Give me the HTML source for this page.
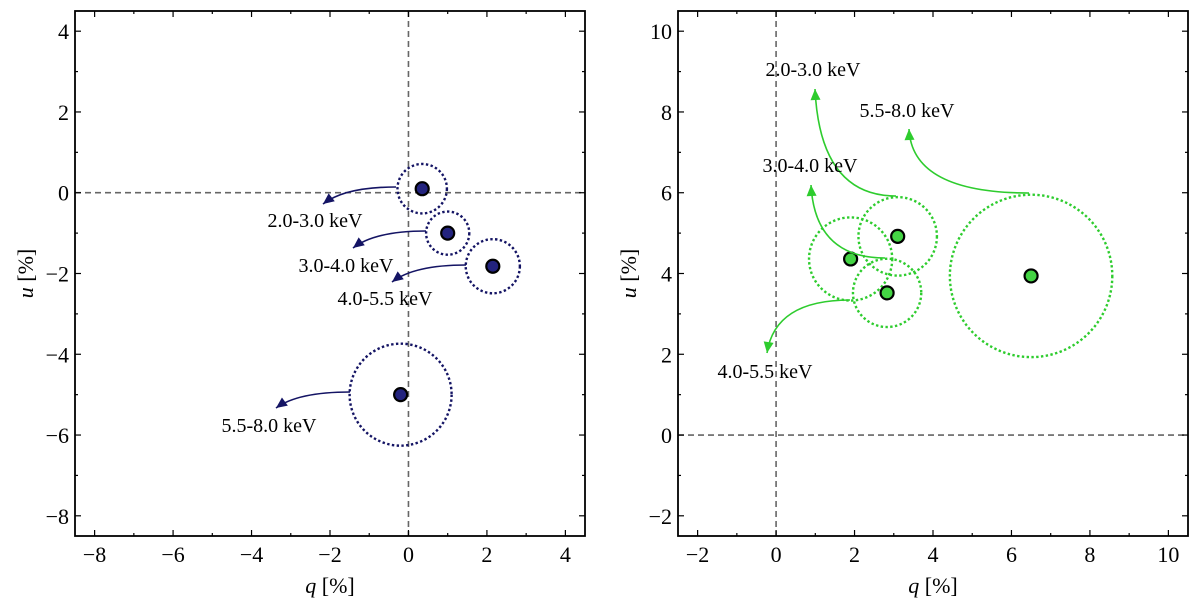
<!DOCTYPE html>
<html><head><meta charset="utf-8"><style>
body{margin:0;background:#fff;}
svg{display:block;font-family:"Liberation Serif",serif;}
</style></head><body>
<svg id="fig" width="1200" height="608" viewBox="0 0 1200 608"></svg>
<script>
// ---- data ----
const bandLabels = ["2.0-3.0 keV","3.0-4.0 keV","4.0-5.5 keV","5.5-8.0 keV"];
const leftQ = [0.35, 1.0, 2.15, -0.2];
const leftU = [0.1, -1.0, -1.82, -5.0];
const leftR = [0.63, 0.55, 0.69, 1.3];
const rightQ = [3.1, 1.9, 2.83, 6.5];
const rightU = [4.92, 4.36, 3.52, 3.94];
const rightR = [1.0, 1.06, 0.87, 2.07];
const leftTicks = [-8,-6,-4,-2,0,2,4];
const rightTicks = [-2,0,2,4,6,8,10];

const NS="http://www.w3.org/2000/svg";
const svg=document.getElementById('fig');
function mk(tag,attrs,parent){const e=document.createElementNS(NS,tag);for(const k in attrs)e.setAttribute(k,attrs[k]);(parent||svg).appendChild(e);return e;}

function panel(cfg){
  const g=mk('g',{});
  
  
  const X=v=>cfg.x0+(v-cfg.xmin)/(cfg.xmax-cfg.xmin)*cfg.w;
  const Y=v=>cfg.y0+(cfg.ymax-v)/(cfg.ymax-cfg.ymin)*cfg.h;
  const zx=mk('line',{x1:X(0),x2:X(0),y1:cfg.y0,y2:cfg.y0+cfg.h,stroke:'#666','stroke-width':1.6,'stroke-dasharray':'6,4'},g);
  
  
  const zy=mk('line',{x1:cfg.x0,x2:cfg.x0+cfg.w,y1:Y(0),y2:Y(0),stroke:'#666','stroke-width':1.6,'stroke-dasharray':'6,4'},g);
  
  
  for(let v=Math.ceil(cfg.xmin);v<=cfg.xmax;v++){
    const L=(v%2===0)?6:3;
    mk('line',{x1:X(v),x2:X(v),y1:cfg.y0+cfg.h,y2:cfg.y0+cfg.h-L,stroke:'#000','stroke-width':1.2},g);
    mk('line',{x1:X(v),x2:X(v),y1:cfg.y0,y2:cfg.y0+L,stroke:'#000','stroke-width':1.2},g);
  }
  for(let v=Math.ceil(cfg.ymin);v<=cfg.ymax;v++){
    const L=(v%2===0)?6:3;
    mk('line',{x1:cfg.x0,x2:cfg.x0+L,y1:Y(v),y2:Y(v),stroke:'#000','stroke-width':1.2},g);
    mk('line',{x1:cfg.x0+cfg.w,x2:cfg.x0+cfg.w-L,y1:Y(v),y2:Y(v),stroke:'#000','stroke-width':1.2},g);
  }
  cfg.xticks.forEach(v=>{
    const t=mk('text',{x:X(v),y:cfg.y0+cfg.h+26,'font-size':22,'text-anchor':'middle'},g);
    t.textContent=(v<0?'\u2212'+(-v):String(v));
    
    
  });
  cfg.yticks.forEach(v=>{
    const t=mk('text',{x:cfg.x0-6,y:Y(v)+8,'font-size':22,'text-anchor':'end'},g);
    t.textContent=(v<0?'\u2212'+(-v):String(v));
    
    
  });
  const xl=mk('text',{x:cfg.x0+cfg.w/2,y:cfg.y0+cfg.h+57,'font-size':22,'text-anchor':'middle'},g);
  xl.innerHTML='<tspan font-style="italic">q</tspan> [%]';
  
  
  const yl=mk('text',{x:0,y:0,'font-size':22,'text-anchor':'middle',transform:`translate(${cfg.x0-42},${cfg.y0+cfg.h/2}) rotate(-90)`},g);
  yl.innerHTML='<tspan font-style="italic">u</tspan> [%]';
  
  
  const sx=cfg.w/(cfg.xmax-cfg.xmin);
  cfg.q.forEach((q,i)=>{
    const c=mk('circle',{cx:X(q),cy:Y(cfg.u[i]),r:cfg.r[i]*sx,fill:'none',stroke:cfg.color,'stroke-width':2.4,'stroke-dasharray':'2.4,2.4'},g);
    
    
    const p=mk('circle',{cx:X(q),cy:Y(cfg.u[i]),r:6.5,fill:cfg.fill,stroke:'#000','stroke-width':2.2},g);
    
    
  });
  cfg.arrows.forEach((a,i)=>{
    const [sx0,sy0,ex,ey,cx,cy,lx,ly]=a;
    const path=mk('path',{d:`M${sx0},${sy0} Q${cx},${cy} ${ex},${ey}`,fill:'none',stroke:cfg.color,'stroke-width':1.6},g);
    
    
    const dx=ex-cx,dy=ey-cy,d=Math.hypot(dx,dy),ux=dx/d,uy=dy/d;
    const L=11,W=5;
    const bx=ex-ux*L,by=ey-uy*L;
    const head=mk('polygon',{points:`${ex},${ey} ${bx-uy*W},${by+ux*W} ${bx+uy*W},${by-ux*W}`,fill:cfg.color},g);
    
    
    const t=mk('text',{x:lx,y:ly+7,'font-size':20,'text-anchor':'middle'},g);
    t.textContent=bandLabels[i];
    
    
  });
  const f=mk('rect',{x:cfg.x0,y:cfg.y0,width:cfg.w,height:cfg.h,fill:'none',stroke:'#000','stroke-width':1.8},g);
  
  
}

panel({name:'left-panel',x0:75,y0:11,w:510,h:525,xmin:-8.5,xmax:4.5,ymin:-8.5,ymax:4.5,
  xticks:leftTicks,yticks:leftTicks,q:leftQ,u:leftU,r:leftR,color:'#141464',fill:'#23237e',
  arrows:[[396,187,323,204,345,187,315,220],[426,231,353,248,375,231,346,265],[466,265,392,282,414,265,385,298],[350,392,276,408,298,392,269,425]]});
panel({name:'right-panel',x0:678,y0:11,w:510,h:525,xmin:-2.5,xmax:10.5,ymin:-2.5,ymax:10.5,
  xticks:rightTicks,yticks:rightTicks,q:rightQ,u:rightU,r:rightR,color:'#2ecc2e',fill:'#44d444',
  arrows:[[896,196,815,89,820,196,813,69],[885,258,811,185,815,258,810,165],[850,300,767,353,775,300,765,371],[1029,193,909,129,912,193,907,110]]});
</script>
</body></html>
